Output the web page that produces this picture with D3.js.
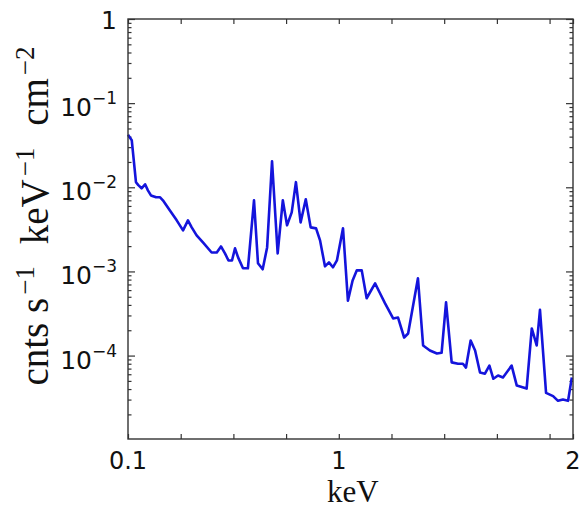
<!DOCTYPE html>
<html>
<head>
<meta charset="utf-8">
<script src="https://cdn.jsdelivr.net/npm/d3@7"></script>
<style>
  body { margin: 0; background: #fff; }
  svg { display: block; }
</style>
</head>
<body>
<svg id="chart" width="583" height="510"></svg>
<script>
// Spectrum: energy (keV) and flux (cnts s^-1 keV^-1 cm^-2)
const energy = [0.100,0.116,0.134,0.144,0.158,0.173,0.185,0.198,0.220,0.237,
  0.249,0.279,0.308,0.335,0.356,0.372,0.393,0.420,0.457,0.479,
  0.497,0.514,0.529,0.544,0.557,0.570,0.591,0.612,0.638,0.655,
  0.675,0.694,0.715,0.739,0.761,0.779,0.799,0.817,0.837,0.859,
  0.880,0.903,0.920,0.941,0.958,0.975,0.992,1.018,1.039,1.059,
  1.077,1.098,1.119,1.155,1.176,1.197,1.232,1.253,1.279,1.296,
  1.338,1.360,1.389,1.419,1.439,1.458,1.482,1.509,1.530,1.543,
  1.563,1.582,1.603,1.624,1.643,1.660,1.680,1.701,1.738,1.760,
  1.802,1.824,1.845,1.859,1.885,1.915,1.936,1.957,1.979,1.995];
const flux = [0.042,0.0363,0.0115,0.0106,0.00973,0.01086,0.0092,0.0080,0.0076,0.0076,
  0.0070,0.0053,0.00405,0.00308,0.00405,0.00334,0.00268,0.00221,0.00168,0.00168,
  0.00198,0.00164,0.00135,0.00135,0.00188,0.00147,0.00109,0.00109,0.0070,0.00125,
  0.00106,0.00193,0.0204,0.00164,0.0070,0.00353,0.00504,0.0115,0.00383,0.0072,
  0.00334,0.00325,0.00234,0.00115,0.00128,0.00112,0.00135,0.00325,4.5e-4,7.8e-4,
  1.03e-3,1.03e-3,4.8e-4,7.2e-4,5.5e-4,4.2e-4,2.76e-4,2.83e-4,1.64e-4,1.83e-4,
  8.3e-4,1.32e-4,1.15e-4,1.06e-4,1.08e-4,4.3e-4,8.3e-5,8.0e-5,8.0e-5,7.2e-5,
  1.51e-4,1.15e-4,6.3e-5,6.1e-5,7.6e-5,5.3e-5,5.8e-5,5.5e-5,7.6e-5,4.4e-5,
  4.05e-5,2.1e-4,1.32e-4,3.5e-4,3.6e-5,3.3e-5,2.9e-5,3.0e-5,2.9e-5,5.5e-5];

// Axis ticks and labels
const xTickValues = [0.1,0.325,0.55,0.775,1.0,1.225,1.45,1.675,1.9,2.0];
const xLabelValues = [0.1, 1, 2];
const xLabelText = ["0.1", "1", "2"];
const yMajorValues = [1, 1e-1, 1e-2, 1e-3, 1e-4];
const yLabelBase = ["1", "10", "10", "10", "10"];
const yLabelExp = ["", "\u22121", "\u22122", "\u22123", "\u22124"];
const yMinorValues = [];
[1e-5, 1e-4, 1e-3, 1e-2, 1e-1].forEach(d => {
  for (let m = 2; m <= 9; m++) yMinorValues.push(m * d);
});

const svg = d3.select("#chart");
const L = 128, R = 573, T = 19, B = 439;

const x = d3.scaleLinear().domain([0.1, 2]).range([L, R]);
const y = d3.scaleLog().domain([1.02e-5, 1]).range([B, T]);

const axisColor = "#333";
const minorY = yMinorValues.filter(v => v > y.domain()[0] && v < 1);

function styleAxis(g) {
  g.select(".domain").remove();
  g.selectAll(".tick line").attr("stroke", axisColor).attr("stroke-width", 1.2);
  g.selectAll(".tick text").remove();
}

// ticks pointing inward on all four sides
svg.append("g").attr("transform", `translate(0,${B})`)
  .call(d3.axisBottom(x).tickValues(xTickValues).tickSize(-5).tickSizeOuter(0)).call(styleAxis);
svg.append("g").attr("transform", `translate(0,${T})`)
  .call(d3.axisTop(x).tickValues(xTickValues).tickSize(-5).tickSizeOuter(0)).call(styleAxis);
svg.append("g").attr("transform", `translate(${L},0)`)
  .call(d3.axisLeft(y).tickValues(yMajorValues).tickSize(-7).tickSizeOuter(0)).call(styleAxis);
svg.append("g").attr("transform", `translate(${R},0)`)
  .call(d3.axisRight(y).tickValues(yMajorValues).tickSize(-7).tickSizeOuter(0)).call(styleAxis);
svg.append("g").attr("transform", `translate(${L},0)`)
  .call(d3.axisLeft(y).tickValues(minorY).tickSize(-3.5).tickSizeOuter(0)).call(styleAxis);
svg.append("g").attr("transform", `translate(${R},0)`)
  .call(d3.axisRight(y).tickValues(minorY).tickSize(-3.5).tickSizeOuter(0)).call(styleAxis);

// spectrum line
const pts = energy.map((e, i) => [e, flux[i]]);
svg.append("path")
  .datum(pts)
  .attr("fill", "none")
  .attr("stroke", "#1414dc")
  .attr("stroke-width", 2.6)
  .attr("stroke-linejoin", "round")
  .attr("d", d3.line().x(d => x(d[0])).y(d => y(d[1])));

// frame
svg.append("rect")
  .attr("x", L).attr("y", T).attr("width", R - L).attr("height", B - T)
  .attr("fill", "none").attr("stroke", axisColor).attr("stroke-width", 1.4);

// x tick labels
svg.append("g").selectAll("text")
  .data(xLabelValues)
  .join("text")
  .attr("x", d => x(d))
  .attr("y", 469)
  .attr("text-anchor", "middle")
  .attr("font-family", "DejaVu Sans")
  .attr("font-size", 24)
  .attr("fill", "#111")
  .text((d, i) => xLabelText[i]);

// y tick labels with exponents
const yl = svg.append("g").selectAll("text")
  .data(yMajorValues)
  .join("text")
  .attr("x", 117)
  .attr("y", (d, i) => y(d) + (i === 0 ? 10 : 13))
  .attr("text-anchor", "end")
  .attr("font-family", "DejaVu Sans")
  .attr("font-size", 25)
  .attr("fill", "#111");
yl.append("tspan").text((d, i) => yLabelBase[i]);
yl.append("tspan")
  .attr("font-size", 17)
  .attr("dy", -12)
  .text((d, i) => yLabelExp[i]);

// axis titles
svg.append("text")
  .attr("x", x(1.06))
  .attr("y", 502)
  .attr("text-anchor", "middle")
  .attr("font-family", "Liberation Serif")
  .attr("font-size", 31)
  .attr("fill", "#111")
  .text("keV");

const yt = svg.append("text")
  .attr("transform", `translate(48,216) rotate(-90)`)
  .attr("text-anchor", "middle")
  .attr("font-family", "Liberation Serif")
  .attr("font-size", 39)
  .attr("fill", "#111");
const parts = [["cnts s", "\u22121"], [" keV", "\u22121"], [" cm", "\u22122"]];
parts.forEach(([base, exp], i) => {
  yt.append("tspan").attr("dy", i === 0 ? 0 : 14).attr("dx", i === 0 ? 0 : 12).text(base);
  yt.append("tspan").attr("font-size", 27).attr("dy", -14).attr("dx", 3).text(exp);
});
</script>
</body>
</html>
